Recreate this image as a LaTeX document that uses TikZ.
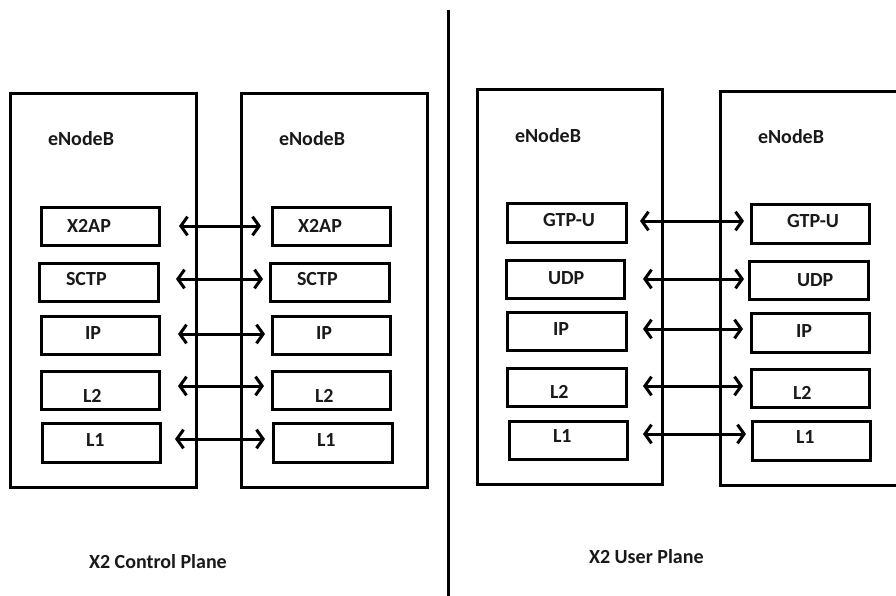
\documentclass[tikz,border=0pt]{standalone}
\usepackage{fontspec}
\setmainfont{Carlito}
\usetikzlibrary{arrows.meta,fit}
\begin{document}
\begin{tikzpicture}[x=0.75pt,y=-0.75pt,
  frame/.style={draw, line width=2.25pt, inner sep=0pt, outer sep=0pt},
  layer/.style={draw, line width=2.25pt, inner sep=0pt, outer sep=0pt},
  txt/.style={anchor=base west, inner sep=0pt, outer sep=0pt, text=black!90,
    font=\bfseries\fontsize{15}{18}\selectfont},
  link/.style={line width=2.25pt,
    {Straight Barb[length=5pt,width=14pt]}-{Straight Barb[length=5pt,width=14pt]}},
  divider/.style={line width=2.25pt}
]
\useasboundingbox (0,0) rectangle (896,596);
\clip (0,0) rectangle (896,596);

% ---------- X2 control plane ----------
\node[frame, fit={(10,93) (196,487)}] (cA) {};
\node[frame, fit={(241,93) (427,487)}] (cB) {};
\node[txt] (cAt) at (48,145) {eNodeB};
\node[txt] (cBt) at (279,145) {eNodeB};

\node[layer, fit={(41,207) (159,245)}] (ca1) {};
\node[layer, fit={(39,263) (158,301)}] (ca2) {};
\node[layer, fit={(41,316) (159,354)}] (ca3) {};
\node[layer, fit={(41,371) (159,409)}] (ca4) {};
\node[layer, fit={(42,423) (160,462)}] (ca5) {};
\node[layer, fit={(272,207) (390,245)}] (cb1) {};
\node[layer, fit={(270,263) (389,301)}] (cb2) {};
\node[layer, fit={(272,316) (390,354)}] (cb3) {};
\node[layer, fit={(272,371) (390,409)}] (cb4) {};
\node[layer, fit={(273,423) (392,462)}] (cb5) {};

\node[txt] (ca1t) at (67,232) {X2AP};
\node[txt] (ca2t) at (66,285) {SCTP};
\node[txt] (ca3t) at (85,339) {IP};
\node[txt] (ca4t) at (83,402) {L2};
\node[txt] (ca5t) at (86,446) {L1};
\node[txt] (cb1t) at (298,232) {X2AP};
\node[txt] (cb2t) at (297,285) {SCTP};
\node[txt] (cb3t) at (316,339) {IP};
\node[txt] (cb4t) at (315,402) {L2};
\node[txt] (cb5t) at (317,446) {L1};

\coordinate (cl1) at (179,226); \coordinate (cr1) at (261,226);
\coordinate (cl2) at (176,279); \coordinate (cr2) at (263,279);
\coordinate (cl3) at (178,334); \coordinate (cr3) at (265,334);
\coordinate (cl4) at (178,386); \coordinate (cr4) at (264,386);
\coordinate (cl5) at (175,439); \coordinate (cr5) at (265,439);
\foreach \i in {1,...,5} \draw[link] (cl\i) -- (cr\i);

\node[txt] (ctitle) at (89,568) {X2 Control Plane};

% ---------- separator ----------
\coordinate (sepTop) at (448,10);
\coordinate (sepBot) at (448,600);
\draw[divider] (sepTop) -- (sepBot);

% ---------- X2 user plane ----------
\node[frame, fit={(477,89) (662,484)}] (uA) {};
\node[frame, fit={(720,91) (900,485)}] (uB) {};
\node[txt] (uAt) at (515,142) {eNodeB};
\node[txt] (uBt) at (758,143) {eNodeB};

\node[layer, fit={(507,203) (626,242)}] (ua1) {};
\node[layer, fit={(506,260) (624,298)}] (ua2) {};
\node[layer, fit={(507,312) (626,350)}] (ua3) {};
\node[layer, fit={(507,368) (626,406)}] (ua4) {};
\node[layer, fit={(509,421) (627,459)}] (ua5) {};
\node[layer, fit={(751,204) (869,243)}] (ub1) {};
\node[layer, fit={(749,261) (868,299)}] (ub2) {};
\node[layer, fit={(751,313) (869,352)}] (ub3) {};
\node[layer, fit={(751,369) (869,407)}] (ub4) {};
\node[layer, fit={(752,421) (870,460)}] (ub5) {};

\node[txt] (ua1t) at (543,226) {GTP-U};
\node[txt] (ua2t) at (548,284) {UDP};
\node[txt] (ua3t) at (553,335) {IP};
\node[txt] (ua4t) at (550,398) {L2};
\node[txt] (ua5t) at (553,442) {L1};
\node[txt] (ub1t) at (787,227) {GTP-U};
\node[txt] (ub2t) at (797,286) {UDP};
\node[txt] (ub3t) at (796,337) {IP};
\node[txt] (ub4t) at (793,399) {L2};
\node[txt] (ub5t) at (796,443) {L1};

\coordinate (ul1) at (640,221); \coordinate (ur1) at (744,221);
\coordinate (ul2) at (643,279); \coordinate (ur2) at (744,279);
\coordinate (ul3) at (643,329); \coordinate (ur3) at (743,329);
\coordinate (ul4) at (643,386); \coordinate (ur4) at (743,386);
\coordinate (ul5) at (643,434); \coordinate (ur5) at (746,434);
\foreach \i in {1,...,5} \draw[link] (ul\i) -- (ur\i);

\node[txt] (utitle) at (589,563) {X2 User Plane};
\end{tikzpicture}
\end{document}
